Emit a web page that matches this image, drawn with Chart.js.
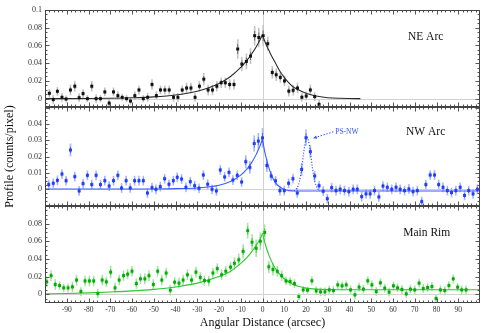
<!DOCTYPE html>
<html>
<head>
<meta charset="utf-8">
<script src="https://cdn.jsdelivr.net/npm/chart.js@4/dist/chart.umd.min.js"></script>
<style>
  body { margin: 0; background: #fff; }
  #wrap { position: relative; width: 490px; height: 333px; }
  #wrap canvas { position: absolute; left: 0; top: 0; }
</style>
</head>
<body>
<div id="wrap">
  <canvas id="ne" width="490" height="333"></canvas>
  <canvas id="nw" width="490" height="333"></canvas>
  <canvas id="rim" width="490" height="333"></canvas>
</div>
<script>
// ---- values ----
// shared x axis (arcsec)
var xTickVals = [-90, -80, -70, -60, -50, -40, -30, -20, -10, 0, 10, 20, 30, 40, 50, 60, 70, 80, 90];

// NE Arc
var neX = [-98,-96.2,-94.3,-92.2,-90.3,-88.3,-86.3,-84.3,-82.5,-80.5,
  -78.5,-76.5,-74.5,-72.5,-70.5,-68.5,-66.5,-64.5,-62.5,-60.7,
  -58.7,-56.8,-54.8,-52.8,-50.8,-48.8,-46.9,-44.9,-42.9,-40.9,
  -38.9,-36.9,-34.9,-32.9,-31,-29,-27,-25,-23,-21,
  -19,-17.1,-15.1,-13.1,-11.4,-9.5,-7.4,-5.5,-3.6,-1.7,
  0.3,2.4,4.5,6.3,8.2,10.1,12.1,14.1,16.1,18.1,
  20.1,22,24,26];
var neY = [0.006,-0.001,0.0083,0.0015,-0.0004,0.0098,0.014,0.0011,0.0057,0,
  0.014,0,0,0.0076,-0.005,0.0076,0.0034,0.0015,0,-0.0027,
  0.0034,0.0098,0,0.0015,0.016,0.0034,0.0098,0.0098,0.0098,0.0015,
  0.0015,0.0098,0.012,0.012,0.0015,0.014,0.022,0.0098,0.0098,0.014,
  0.018,0.018,0.016,0.016,0.056,0.039,0.042,0.048,0.071,0.069,
  0.071,0.062,0.0296,0.027,0.024,0.02,0.0085,0.0095,0.012,0.0016,
  0.003,0.0098,0.0023,-0.0064];
var neErr = [0.005,0.005,0.005,0.005,0.004,0.006,0.006,0.005,0.005,0.004,
  0.006,0.005,0.004,0.005,0.005,0.005,0.005,0.004,0.004,0.004,
  0.005,0.005,0.004,0.005,0.006,0.005,0.005,0.005,0.005,0.005,
  0.005,0.005,0.006,0.006,0.005,0.006,0.007,0.006,0.006,0.006,
  0.006,0.006,0.006,0.006,0.011,0.008,0.009,0.009,0.011,0.011,
  0.012,0.008,0.007,0.007,0.006,0.006,0.006,0.006,0.006,0.005,
  0.005,0.006,0.005,0.005];
var neFitLX = [-100,-80,-70,-60,-50,-40,-30,-25,-20,-15,-10,-7,-5,-3,-1,0];
var neFitLY = [0,0.0002,0.0005,0.001,0.002,0.0041,0.0084,0.0121,0.0172,0.0245,0.0352,0.0437,0.0504,0.058,0.067,0.072];
var neFitRX = [0,1,2,3,4,6,8,10,12,14,16,20,24,30,36,40,45];
var neFitRY = [0.072,0.065,0.059,0.054,0.049,0.04,0.031,0.024,0.018,0.0135,0.0106,0.006,0.0032,0.0011,0.0004,0.0002,0];

// NW Arc
var nwX = [-98.3,-96.2,-94.3,-92.2,-90.3,-88.3,-86.3,-84.3,-82.5,-80.5,
  -78.5,-76.5,-74.5,-72.5,-70.5,-68.5,-66.5,-64.8,-62.7,-60.8,
  -58.8,-56.8,-54.8,-52.9,-50.8,-49,-47,-45,-43,-41,
  -39.2,-37.2,-35.2,-33.2,-31.2,-29.2,-27.2,-25.2,-23.2,-21.2,
  -19.4,-17.4,-15.4,-13.6,-11.6,-9.6,-7.7,-5.8,-3.8,-1.9,
  0,2,4,6,8,10,12,14,16,18,
  20,22,24,26,27.9,29.8,31.8,33.8,35.7,37.7,
  39.7,41.7,43.6,45.6,47.6,49.5,51.5,53.5,55.4,57.4,
  59.4,61.4,63.3,65.3,67.3,69.2,71.2,73.2,75.1,77.1,
  79.1,81,83,85,86.9,88.9,90.9,92.9,94.8,96.8,
  98.8];
var nwY = [0.0027,0.0035,0.0053,0.0092,0.0051,0.024,0.0076,-0.0012,0.0033,0.0084,
  0.0027,0.0084,0.0027,0.0051,0.0018,0.0051,0.0084,0.0006,0.0051,0.0006,
  0.0051,0.0051,0.0051,-0.0025,0.0008,-0.0002,0.0014,0.0063,0.0029,0.0051,
  0.0072,0.0061,0.001,0.0045,0.002,0.0004,0.0086,0.0029,-0.0002,-0.0012,
  0.0117,0.0074,0.0102,0.0055,0.0084,0.0043,0.0168,0.0133,0.028,0.0295,
  0.0315,0.0145,0.008,0.005,-0.001,-0.001,0.0035,0.0063,-0.0025,0.012,
  0.0316,0.023,0.008,0.002,-0.0014,-0.006,0.0008,-0.001,-0.0002,-0.001,
  -0.0016,-0.0002,-0.0002,-0.0047,-0.003,-0.003,-0.001,-0.0049,0.0018,0.001,
  -0.0002,0.001,-0.0002,-0.001,0,-0.0016,-0.001,-0.0078,0.0027,0.0086,
  0.0086,0.0027,0.001,-0.001,-0.0022,-0.001,0.001,-0.004,-0.001,-0.003,
  -0.0002];
var nwErr = [0.003,0.003,0.003,0.003,0.003,0.004,0.003,0.003,0.003,0.003,
  0.003,0.003,0.003,0.003,0.003,0.003,0.003,0.003,0.003,0.003,
  0.003,0.003,0.003,0.003,0.003,0.003,0.003,0.003,0.003,0.003,
  0.003,0.003,0.003,0.003,0.003,0.003,0.003,0.003,0.003,0.003,
  0.003,0.003,0.003,0.003,0.003,0.003,0.004,0.004,0.005,0.005,
  0.006,0.004,0.003,0.003,0.003,0.003,0.003,0.003,0.003,0.004,
  0.005,0.004,0.003,0.003,0.003,0.003,0.003,0.003,0.003,0.003,
  0.003,0.003,0.003,0.003,0.003,0.003,0.003,0.003,0.003,0.003,
  0.003,0.003,0.003,0.003,0.003,0.003,0.003,0.003,0.003,0.003,
  0.003,0.003,0.003,0.003,0.003,0.003,0.003,0.003,0.003,0.003,
  0.003];
var nwFitLX = [-100,-50,-40,-30,-25,-20,-15,-10,-7,-5,-3,-2,-1,0];
var nwFitLY = [0,0,0.0002,0.0006,0.0012,0.0023,0.0044,0.0085,0.0125,0.0162,0.021,0.024,0.027,0.031];
var nwFitRX = [0,1,2,3,4,5,6,8,10,12,15,20,100];
var nwFitRY = [0.031,0.023,0.0175,0.0128,0.0088,0.006,0.0037,0.0012,-0.0004,-0.001,-0.0013,-0.0013,-0.0013];
var psX = [14.5,15,16,17,18,19,20,20.5,21,22,23,24,25,26,26.5];
var psY = [-0.0013,-0.0008,0.0008,0.0048,0.0127,0.0229,0.0307,0.0318,0.0307,0.0229,0.0127,0.0048,0.0008,-0.0008,-0.0013];

// Main Rim
var rimX = [-99.2,-97.2,-95.3,-93.3,-91.4,-89.4,-87.4,-85.5,-83.5,-81.6,
  -79.6,-77.6,-75.7,-73.7,-71.8,-69.8,-67.8,-65.9,-63.9,-62,
  -60,-58,-56.1,-54.1,-52.2,-50.2,-48.2,-46.3,-44.3,-42.4,
  -40.4,-38.4,-36.5,-34.5,-32.6,-30.6,-28.6,-26.7,-24.7,-22.8,
  -20.8,-18.8,-16.9,-14.7,-12.9,-10.9,-8.9,-6.8,-4.8,-2.9,
  -1,1,2.9,4.8,6.8,8.8,10.8,12.7,14.7,16.7,
  18.7,20.7,22.7,24.7,26.7,28.7,30.7,32.6,34.6,36.6,
  38.5,40.5,42.5,44.4,46.4,48.4,50.3,52.3,54.2,56.2,
  58.2,60.2,62.1,64.1,66.1,68,70,72,73.9,75.9,
  77.9,79.8,81.8,83.8,85.7,87.7,89.7,91.6,93.6];
var rimY = [0.014,0.021,0.011,0.0098,0.0072,0.0072,0.0083,0.016,0.003,0.015,
  0.015,0.015,0.0008,0.016,0.014,0.025,0.0072,0.016,0.021,0.0227,
  0.026,0.012,0.0174,0.0174,0.021,0.011,0.026,0.016,0.024,0.0045,
  0.0136,0.0125,0.016,0.022,0.016,0.025,0.019,0.0155,0.015,0.024,
  0.029,0.022,0.026,0.0307,0.035,0.039,0.0485,0.072,0.059,0.052,
  0.06,0.07,0.031,0.028,0.026,0.021,0.015,0.0144,0.012,-0.0027,
  0.0049,0.0045,0.0152,0.0038,0.0027,0.0027,0.0049,0.0042,0.0106,0.0095,
  0.0106,0.0049,-0.0008,0.008,0.0057,0.0152,0.0106,0.003,0.0129,0.0068,
  0.0023,0.0095,0.0072,0.0053,0.0004,0.0057,0.0049,0.0125,0.0064,0.0076,
  0.0087,-0.0049,0.0049,0.0042,0.0098,0.0174,0.008,0.0049,0.0049];
var rimErr = [0.006,0.006,0.006,0.005,0.005,0.005,0.006,0.006,0.005,0.006,
  0.006,0.006,0.005,0.006,0.006,0.007,0.006,0.006,0.006,0.006,
  0.006,0.006,0.006,0.006,0.006,0.006,0.006,0.006,0.006,0.006,
  0.006,0.006,0.006,0.006,0.006,0.006,0.006,0.006,0.006,0.006,
  0.006,0.006,0.006,0.006,0.007,0.007,0.008,0.009,0.009,0.01,
  0.01,0.009,0.007,0.007,0.006,0.006,0.005,0.005,0.005,0.004,
  0.004,0.004,0.005,0.005,0.005,0.005,0.005,0.005,0.005,0.005,
  0.005,0.005,0.005,0.005,0.005,0.005,0.005,0.005,0.005,0.005,
  0.005,0.005,0.005,0.005,0.005,0.005,0.005,0.005,0.005,0.005,
  0.005,0.005,0.005,0.005,0.005,0.005,0.005,0.005,0.005];
var rimFitLX = [-100,-90,-80,-70,-60,-50,-40,-30,-20,-15,-10,-7,-5,-3,-1,0];
var rimFitLY = [0.0003,0.0008,0.0015,0.0025,0.0037,0.0055,0.0082,0.0125,0.02,0.0255,0.035,0.042,0.048,0.055,0.063,0.069];
var rimFitRX = [0,1,2,3,5,7,10,13,16,20,25,30,40,100];
var rimFitRY = [0.069,0.059,0.051,0.044,0.033,0.025,0.0175,0.0125,0.0092,0.0069,0.0057,0.0052,0.005,0.005];

// y tick labels per panel
var neYTicks = [0, 0.02, 0.04, 0.06, 0.08, 0.1];
var neYLabels = ['0', '0.02', '0.04', '0.06', '0.08', '0.1'];
var nwYTicks = [0, 0.01, 0.02, 0.03, 0.04];
var nwYLabels = ['0', '0.01', '0.02', '0.03', '0.04'];
var rimYTicks = [0, 0.02, 0.04, 0.06, 0.08];
var rimYLabels = ['0', '0.02', '0.04', '0.06', '0.08'];

Chart.defaults.font.family = '"Liberation Serif", "Times New Roman", serif';

function pts(xs, ys) {
  return xs.map(function (v, i) { return { x: v, y: ys[i] }; });
}

function vline(ctx, x, y1, y2) { ctx.moveTo(x, y1); ctx.lineTo(x, y2); }
function hline(ctx, y, x1, x2) { ctx.moveTo(x1, y); ctx.lineTo(x2, y); }

// frame, inward ticks, zero lines, error bars and panel text
var deco = {
  id: 'deco',
  beforeDatasetsDraw: function (chart, args, o) {
    var ctx = chart.ctx, a = chart.chartArea, x = chart.scales.x, y = chart.scales.y;
    ctx.save();
    ctx.beginPath();
    ctx.rect(a.left, a.top, a.right - a.left, a.bottom - a.top);
    ctx.clip();
    ctx.strokeStyle = '#d2d2d2';
    ctx.lineWidth = 1;
    ctx.beginPath();
    hline(ctx, Math.round(y.getPixelForValue(0)) + 0.5, a.left, a.right);
    vline(ctx, Math.round(x.getPixelForValue(0)) + 0.5, a.top, a.bottom);
    ctx.stroke();

    var ds = chart.data.datasets[0];
    ds.data.forEach(function (p, i) {
      var e = ds.errors[i];
      var px = x.getPixelForValue(p.x);
      ctx.strokeStyle = o.errLight;
      ctx.lineWidth = 1.6;
      ctx.beginPath();
      vline(ctx, px, y.getPixelForValue(p.y - e), y.getPixelForValue(p.y + e));
      ctx.stroke();
      ctx.strokeStyle = o.errDark;
      ctx.lineWidth = 1;
      ctx.beginPath();
      vline(ctx, px, y.getPixelForValue(p.y - e * 0.5), y.getPixelForValue(p.y + e * 0.5));
      ctx.stroke();
    });
    ctx.restore();
  },
  afterDraw: function (chart, args, o) {
    var ctx = chart.ctx, a = chart.chartArea, x = chart.scales.x, y = chart.scales.y;
    var L = a.left + 0.5, R = a.right - 0.5, T = a.top + 0.5, B = a.bottom - 0.5;
    ctx.save();
    ctx.strokeStyle = '#555';
    ctx.lineWidth = 1;
    ctx.beginPath();
    // x ticks, every 2 arcsec, long every 10
    for (var k = -49; k <= 49; k++) {
      var px = Math.round(x.getPixelForValue(k * 2)) + 0.5;
      var len = (k % 5 === 0) ? 4 : 2;
      vline(ctx, px, B, B - len);
      vline(ctx, px, T, T + len);
    }
    // y ticks
    var k0 = Math.ceil(y.min / o.yMinor - 1e-6), k1 = Math.floor(y.max / o.yMinor + 1e-6);
    for (var j = k0; j <= k1; j++) {
      var v = j * o.yMinor;
      var r = v / o.yMajor;
      var major = Math.abs(r - Math.round(r)) < 1e-6;
      var py = Math.round(y.getPixelForValue(v)) + 0.5;
      if (py < T + 1 || py > B - 1) continue;
      hline(ctx, py, L, L + (major ? 4 : 2));
      hline(ctx, py, R, R - (major ? 4 : 2));
    }
    ctx.stroke();
    ctx.strokeStyle = '#444';
    ctx.strokeRect(L, T, R - L, B - T);

    ctx.fillStyle = '#111';
    ctx.font = '11.5px "Liberation Serif"';
    ctx.textAlign = 'center';
    ctx.textBaseline = 'middle';
    ctx.fillText(o.label, x.getPixelForValue(o.lx), y.getPixelForValue(o.ly));

    if (o.note) {
      var n = o.note;
      ctx.fillStyle = n.color;
      ctx.font = '7.5px "Liberation Serif"';
      ctx.fillText(n.text, x.getPixelForValue(n.tx), y.getPixelForValue(n.ty));
      var x1 = x.getPixelForValue(n.fromX), y1 = y.getPixelForValue(n.fromY);
      var x2 = x.getPixelForValue(n.toX), y2 = y.getPixelForValue(n.toY);
      ctx.strokeStyle = n.color;
      ctx.lineWidth = 1;
      ctx.setLineDash([1.5, 1.5]);
      ctx.beginPath();
      ctx.moveTo(x1, y1);
      ctx.lineTo(x2, y2);
      ctx.stroke();
      ctx.setLineDash([]);
      var ang = Math.atan2(y2 - y1, x2 - x1);
      ctx.beginPath();
      ctx.moveTo(x2, y2);
      ctx.lineTo(x2 - 4 * Math.cos(ang - 0.45), y2 - 4 * Math.sin(ang - 0.45));
      ctx.lineTo(x2 - 4 * Math.cos(ang + 0.45), y2 - 4 * Math.sin(ang + 0.45));
      ctx.closePath();
      ctx.fill();
    }
    ctx.restore();
  }
};

function fitLine(xs, ys, color, dash) {
  return {
    data: pts(xs, ys),
    showLine: true,
    pointRadius: 0,
    borderColor: color,
    borderWidth: dash ? 1.2 : 1.1,
    borderDash: dash || [],
    cubicInterpolationMode: 'monotone',
    order: 1
  };
}

function panel(id, p) {
  var datasets = [{
    data: pts(p.xs, p.ys),
    errors: p.errs,
    showLine: false,
    pointStyle: 'rect',
    pointRadius: 2.1,
    backgroundColor: p.color,
    borderWidth: 0,
    order: 0
  }];
  p.fits.forEach(function (f) { datasets.push(f); });

  var xScale = {
    type: 'linear', min: -100, max: 100,
    display: !!p.bottom,
    grid: { display: false, drawTicks: false },
    border: { display: false },
    afterBuildTicks: function (s) { s.ticks = xTickVals.map(function (v) { return { value: v }; }); },
    ticks: {
      autoSkip: false, maxRotation: 0, padding: 3, color: '#333',
      font: { size: 7.5 },
      callback: function (v) { return String(v); }
    },
    title: {
      display: !!p.bottom, text: 'Angular Distance (arcsec)', color: '#111',
      font: { size: 12 }, padding: { top: 0, bottom: 3 }
    }
  };
  if (p.bottom) xScale.afterFit = function (s) { s.height = 30; };

  new Chart(document.getElementById(id), {
    type: 'scatter',
    data: { datasets: datasets },
    options: {
      responsive: false,
      animation: false,
      devicePixelRatio: 1,
      layout: { padding: p.pad },
      plugins: {
        legend: { display: false },
        tooltip: { enabled: false },
        deco: p.deco
      },
      scales: {
        x: xScale,
        y: {
          min: p.ymin, max: p.ymax,
          grid: { display: false, drawTicks: false },
          border: { display: false },
          afterBuildTicks: function (s) { s.ticks = p.yTicks.map(function (v) { return { value: v }; }); },
          afterFit: function (s) { s.width = 45; },
          ticks: {
            padding: 3, color: '#333', font: { size: 8 },
            callback: function (v, i) { return p.yLabels[i]; }
          },
          title: {
            display: !!p.ytitle, text: p.ytitle || '', color: '#111',
            font: { size: 12 }, padding: { top: 3, bottom: 0 }
          }
        }
      }
    },
    plugins: [deco]
  });
}

panel('ne', {
  xs: neX, ys: neY, errs: neErr, color: '#111',
  fits: [fitLine(neFitLX, neFitLY, '#2a2a2a'), fitLine(neFitRX, neFitRY, '#2a2a2a')],
  ymin: -0.0094, ymax: 0.1, yTicks: neYTicks, yLabels: neYLabels,
  pad: { top: 10, right: 10, bottom: 226, left: 0 },
  deco: { errLight: '#c4c4c4', errDark: '#6a6a6a', yMinor: 0.005, yMajor: 0.02, label: 'NE Arc', lx: 75, ly: 0.0696 }
});

panel('nw', {
  xs: nwX, ys: nwY, errs: nwErr, color: '#1f3dff',
  fits: [fitLine(nwFitLX, nwFitLY, '#3a5bff'), fitLine(nwFitRX, nwFitRY, '#3a5bff'), fitLine(psX, psY, '#3a5bff', [1.2, 1.6])],
  ymin: -0.0105, ymax: 0.0505, yTicks: nwYTicks, yLabels: nwYLabels,
  ytitle: 'Profile (counts/pixel)',
  pad: { top: 107, right: 10, bottom: 127, left: 0 },
  deco: {
    errLight: '#aab6ff', errDark: '#4d66ff', yMinor: 0.0025, yMajor: 0.01, label: 'NW Arc', lx: 75, ly: 0.0351,
    note: { text: 'PS-NW', color: '#3355ff', tx: 38.8, ty: 0.0349, fromX: 32.6, fromY: 0.0352, toX: 23.3, toY: 0.0313 }
  }
});

panel('rim', {
  xs: rimX, ys: rimY, errs: rimErr, color: '#00b000',
  fits: [fitLine(rimFitLX, rimFitLY, '#2fc62f'), fitLine(rimFitRX, rimFitRY, '#2fc62f')],
  ymin: -0.01, ymax: 0.1, yTicks: rimYTicks, yLabels: rimYLabels,
  bottom: true,
  pad: { top: 206, right: 10, bottom: 0, left: 0 },
  deco: { errLight: '#a6e6a6', errDark: '#3cc43c', yMinor: 0.005, yMajor: 0.02, label: 'Main Rim', lx: 75.5, ly: 0.0697 }
});
</script>
</body>
</html>
